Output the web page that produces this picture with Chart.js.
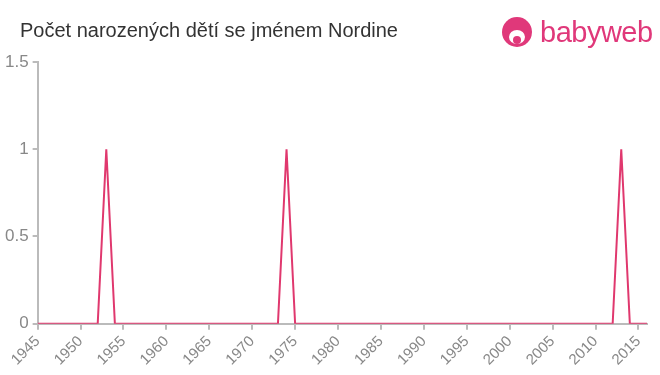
<!DOCTYPE html>
<html>
<head>
<meta charset="utf-8">
<script src="https://cdn.jsdelivr.net/npm/chart.js@4"></script>
<style>
  html, body { margin: 0; padding: 0; background: #fff; }
  #wrap { position: relative; width: 660px; height: 375px; }
  #title { position: absolute; left: 20px; top: 19px; font: 20px "Liberation Sans", Arial, sans-serif; color: #333; }
  #logo { position: absolute; left: 502px; top: 14px; height: 36px; display: flex; align-items: center; }
  #logo .dot { position: relative; width: 30px; height: 30px; border-radius: 50%; background: #e0387a; margin-right: 8px; overflow: hidden; }
  #logo .face { position: absolute; left: 7px; top: 13px; width: 16px; height: 14px; border-radius: 50%; background: #fff; }
  #logo .mouth { position: absolute; left: 11px; top: 19px; width: 8px; height: 8px; border-radius: 50%; background: #e0387a; }
  #logo span { font: 29px "Liberation Sans", Arial, sans-serif; color: #e0387a; letter-spacing: -0.5px; }
  canvas { position: absolute; left: 0; top: 0; }
</style>
</head>
<body>
<div id="wrap">
  <canvas id="chart1" width="660" height="375"></canvas>
  <div id="title">Počet narozených dětí se jménem Nordine</div>
  <div id="logo"><div class="dot"><div class="face"></div><div class="mouth"></div></div><span>babyweb</span></div>
</div>
<script>
// years and births per year
var years = [];
for (var y = 1945; y <= 2016; y++) years.push(y);
var births = [0,0,0,0,0,0,0,0,1,0,0,0,0,0,0,0,0,0,0,0,0,0,0,0,0,0,0,0,0,1,0,0,0,0,0,0,0,0,0,0,0,0,0,0,0,0,0,0,0,0,0,0,0,0,0,0,0,0,0,0,0,0,0,0,0,0,0,0,1,0,0,0];
var xTicks = [1945, 1950, 1955, 1960, 1965, 1970, 1975, 1980, 1985, 1990, 1995, 2000, 2005, 2010, 2015];
var yTicks = [0, 0.5, 1, 1.5];

var points = years.map(function (yr, i) { return { x: yr, y: births[i] }; });

var ctx = document.getElementById('chart1').getContext('2d');
var chart = new Chart(ctx, {
    type: 'line',
    data: {
        datasets: [{
            data: points,
            borderColor: 'rgb(224,56,110)',
            borderWidth: 2,
            pointRadius: 0,
            tension: 0,
            fill: false
        }]
    },
    options: {
        responsive: false,
        animation: false,
        layout: { padding: { top: 62, right: 13, left: 1, bottom: 3 } },
        plugins: { legend: { display: false }, tooltip: { enabled: false } },
        scales: {
            x: {
                type: 'linear',
                min: 1945,
                max: 2016,
                afterBuildTicks: function (axis) {
                    axis.ticks = xTicks.map(function (v) { return { value: v }; });
                },
                ticks: {
                    maxRotation: 45,
                    minRotation: 45,
                    color: '#888',
                    font: { family: 'Liberation Sans', size: 15 },
                    callback: function (v) { return String(v); }
                },
                grid: { drawOnChartArea: false, color: '#bbb', tickLength: 6, lineWidth: 2 },
                border: { color: '#bbb', width: 2 }
            },
            y: {
                min: 0,
                max: 1.5,
                afterBuildTicks: function (axis) {
                    axis.ticks = yTicks.map(function (v) { return { value: v }; });
                },
                ticks: {
                    color: '#888',
                    padding: 4,
                    font: { family: 'Liberation Sans', size: 17 },
                    callback: function (v) { return String(v); }
                },
                grid: { drawOnChartArea: false, color: '#bbb', tickLength: 5, lineWidth: 2 },
                border: { color: '#bbb', width: 2 }
            }
        }
    }
});
</script>
</body>
</html>
